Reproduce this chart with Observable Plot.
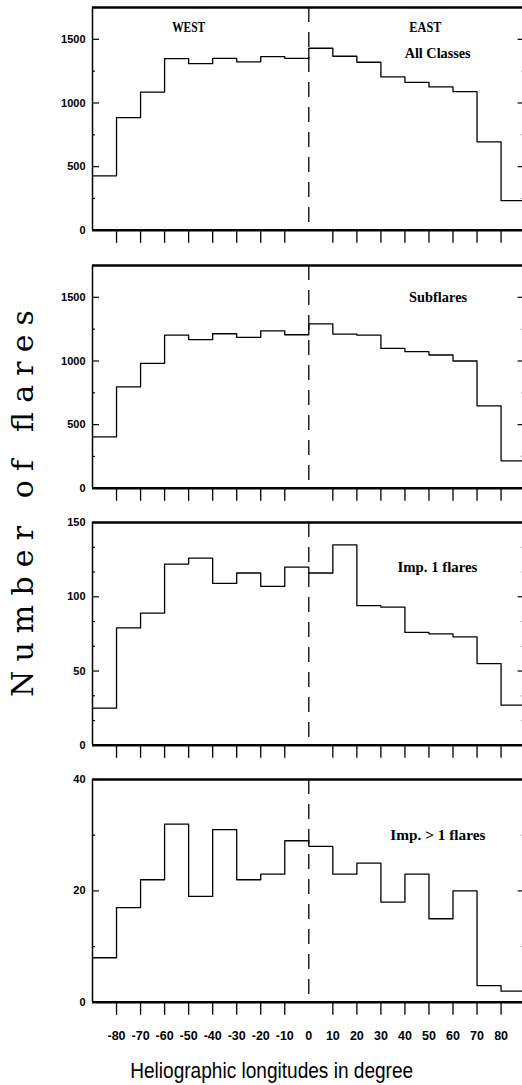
<!DOCTYPE html>
<html><head><meta charset="utf-8">
<script src="https://cdn.jsdelivr.net/npm/d3@7"></script>
<script src="https://cdn.jsdelivr.net/npm/@observablehq/plot@0.6"></script>
<style>
html,body{margin:0;padding:0;background:#fff;overflow:hidden;}
#chart{position:relative;width:522px;height:1085px;overflow:hidden;background:#fff;}
#chart > svg{position:absolute;left:0;max-width:none !important;}
</style></head><body><div id="chart"></div>
<script>
// ---- data ----
const binStart = [-90,-80,-70,-60,-50,-40,-30,-20,-10,0,10,20,30,40,50,60,70,80];
const binWidth = 10;
const allClasses = [428,885,1086,1349,1309,1351,1323,1364,1351,1430,1367,1320,1205,1162,1126,1089,695,233];
const subflares  = [404,797,982,1203,1167,1214,1185,1237,1206,1292,1211,1203,1099,1073,1047,1000,648,216];
const imp1       = [25,79,89,122,126,109,116,107,120,116,135,94,93,76,75,73,55,27];
const impGt1     = [8,17,22,32,19,31,22,23,29,28,23,25,18,23,15,20,3,2];

const xTickValues  = [-80,-70,-60,-50,-40,-30,-20,-10,10,20,30,40,50,60,70,80];
const xLabelValues = [-80,-70,-60,-50,-40,-30,-20,-10,0,10,20,30,40,50,60,70,80];

const yLabels1 = [0,500,1000,1500];
const yMajor1  = [500,1000,1500];
const yMinor1  = [250,750,1250];
const yLabels3 = [0,50,100,150];
const yMajor3  = [50,100];
const yMinor3  = [16.67,33.33,66.67,83.33,116.67,133.33];
const yLabels4 = [0,20,40];
const yMajor4  = [20];
const yMinor4  = [10,30];

const notes1 = [{x:-50,y:1593,text:"WEST",w:33},{x:48.5,y:1593,text:"EAST",w:32},{x:53.6,y:1392,text:"All Classes",w:66}];
const notes2 = [{x:53.8,y:1498,text:"Subflares",w:58}];
const notes3 = [{x:53.5,y:120,text:"Imp. 1 flares",w:80}];
const notes4 = [{x:53.7,y:30,text:"Imp. > 1 flares",w:95}];

const panels = [
  {values: allClasses, yMax: 1750, labels: yLabels1, major: yMajor1, minor: yMinor1, notes: notes1, top: 6.7},
  {values: subflares,  yMax: 1750, labels: yLabels1, major: yMajor1, minor: yMinor1, notes: notes2, top: 265},
  {values: imp1,       yMax: 150,  labels: yLabels3, major: yMajor3, minor: yMinor3, notes: notes3, top: 522},
  {values: impGt1,     yMax: 40,   labels: yLabels4, major: yMajor4, minor: yMinor4, notes: notes4, top: 779}
];

const chart = document.getElementById("chart");
const W = 530, mL = 92, mR = 5.4, mT = 10, plotH = 222.8;
const plotW = W - mL - mR;

panels.forEach((cfg, idx) => {
  const last = idx === panels.length - 1;
  const mB = last ? 50 : 25;
  const pts = binStart.map((x, i) => ({x, y: cfg.values[i]}));
  pts.push({x: binStart[binStart.length-1] + binWidth, y: cfg.values[cfg.values.length-1]});
  const svg = Plot.plot({
    width: W, height: mT + plotH + mB,
    marginLeft: mL, marginRight: mR, marginTop: mT, marginBottom: mB,
    x: {domain: [-90, 90]},
    y: {domain: [0, cfg.yMax]},
    style: {background: "transparent", color: "#000", fontFamily: "'Liberation Sans', Arial, sans-serif", fontWeight: "bold", fontSize: "11px", overflow: "visible", maxWidth: "none"},
    marks: [
      Plot.ruleX([0], {stroke: "#000", strokeDasharray: "15,10", strokeWidth: 1.3}),
      Plot.line(pts, {x: "x", y: "y", curve: "step-after", stroke: "#000", strokeWidth: 1.3}),
      Plot.ruleY([cfg.yMax], {stroke: "#000", strokeWidth: 2.4}),
      Plot.ruleY([0], {stroke: "#000", strokeWidth: 2.4}),
      Plot.ruleX([-90], {stroke: "#000", strokeWidth: 1.5}),
      Plot.ruleX([90], {stroke: "#000", strokeWidth: 1.5}),
      Plot.tickY(cfg.major, {stroke: "#000", strokeWidth: 1.2, insetRight: plotW - 7}),
      Plot.tickY(cfg.major, {stroke: "#000", strokeWidth: 1.2, insetLeft: plotW - 7}),
      Plot.tickY(cfg.minor, {stroke: "#000", strokeWidth: 1.2, insetRight: plotW - 3}),
      Plot.tickY(cfg.minor, {stroke: "#000", strokeWidth: 1.2, insetLeft: plotW - 3}),
      Plot.axisY(cfg.labels, {tickSize: 0, tickPadding: 7, label: null, tickFormat: d => String(d), fontSize: 11, fontWeight: "bold"}),
      Plot.axisX(xTickValues, {tickSize: 13, tickFormat: () => "", label: null, strokeWidth: 1.3}),
      last ? Plot.axisX(xLabelValues, {tickSize: 0, tickPadding: 29, tickFormat: d => String(d), label: null, fontSize: 12.5, fontWeight: "bold"}) : null,
      Plot.text(cfg.notes, {x: "x", y: "y", text: "text", fontFamily: "'Liberation Serif', 'Times New Roman', serif", fontWeight: "bold", fontSize: 14, fill: "#000"})
    ]
  });
  svg.style.top = (cfg.top - mT) + "px";
  svg.style.maxWidth = "none";
  chart.appendChild(svg);
  d3.select(svg).selectAll("g[aria-label='text'] text").each(function(_, i) {
    const n = cfg.notes[i];
    if (n) { this.setAttribute("textLength", n.w); this.setAttribute("lengthAdjust", "spacingAndGlyphs"); }
  });
});

// axis titles
const ns = "http://www.w3.org/2000/svg";
const over = document.createElementNS(ns, "svg");
over.setAttribute("width", 522); over.setAttribute("height", 1085);
over.style.top = "0px";
over.innerHTML =
  `<text x="33.3" y="503.5" transform="rotate(-90 33.3 503.5)" text-anchor="middle" font-family="'DejaVu Serif', serif" font-size="30" textLength="387" lengthAdjust="spacing" fill="#000">Number of flares</text>` +
  `<text x="271.7" y="1077.5" text-anchor="middle" font-family="'Liberation Sans', Arial, sans-serif" font-size="22.5" textLength="283" lengthAdjust="spacingAndGlyphs" fill="#000">Heliographic longitudes in degree</text>`;
chart.appendChild(over);
</script></body></html>
